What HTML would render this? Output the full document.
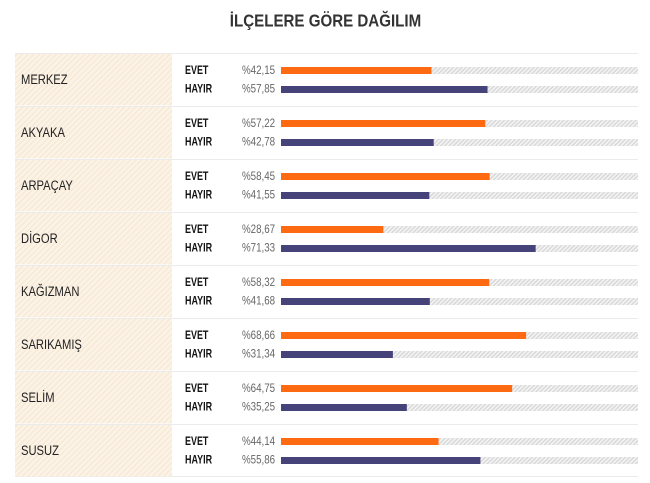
<!DOCTYPE html>
<html><head><meta charset="utf-8"><style>
html,body{margin:0;padding:0;background:#fff;}
svg{display:block;}
.t{font-family:"Liberation Sans",sans-serif;font-weight:bold;font-size:18px;fill:#333;}
.n{font-family:"Liberation Sans",sans-serif;font-size:14px;fill:#222;}
.l{font-family:"Liberation Sans",sans-serif;font-weight:bold;font-size:11.5px;fill:#111;}
.p{font-family:"Liberation Sans",sans-serif;font-size:11.5px;fill:#666;}
</style></head><body>
<svg width="650" height="483" viewBox="0 0 650 483" xmlns="http://www.w3.org/2000/svg">
<defs>
<pattern id="b" width="4" height="4" patternUnits="userSpaceOnUse" patternTransform="rotate(45)"><rect width="4" height="4" fill="#fcf3e7"/><rect width="1.5" height="4" fill="#f7e9d6"/></pattern>
<pattern id="g" width="3" height="3" patternUnits="userSpaceOnUse" patternTransform="rotate(45)"><rect width="3" height="3" fill="#f4f4f4"/><rect width="1.5" height="3" fill="#d9d9d9"/></pattern>
<g id="row">
<rect x="15" y="0.5" width="157" height="52" fill="url(#b)"/>
<line x1="15" y1="0.5" x2="638" y2="0.5" stroke="#ebebeb" stroke-width="1"/>
<text class="l" transform="translate(185,21) scale(0.78,1)">EVET</text>
<text class="l" transform="translate(185,39.7) scale(0.78,1)">HAYIR</text>
<rect x="281" y="14" width="357" height="7" fill="url(#g)"/>
<rect x="281" y="33" width="357" height="7" fill="url(#g)"/>
</g>
</defs>
<text class="t" text-anchor="middle" transform="translate(325.5,26.5) scale(0.84,1)">İLÇELERE GÖRE DAĞILIM</text>
<line x1="15" y1="476.5" x2="638" y2="476.5" stroke="#ebebeb" stroke-width="1"/>

<g transform="translate(0,53)">
<use href="#row"/>
<text class="n" transform="translate(21,31) scale(0.8,1)">MERKEZ</text>
<text class="p" transform="translate(242,21) scale(0.85,1)">%42,15</text>
<text class="p" transform="translate(242,39.7) scale(0.85,1)">%57,85</text>
<rect x="281" y="14" width="150.48" height="7" fill="#fd6a12"/>
<rect x="281" y="33" width="206.52" height="7" fill="#46427a"/>
</g>

<g transform="translate(0,106)">
<use href="#row"/>
<text class="n" transform="translate(21,31) scale(0.8,1)">AKYAKA</text>
<text class="p" transform="translate(242,21) scale(0.85,1)">%57,22</text>
<text class="p" transform="translate(242,39.7) scale(0.85,1)">%42,78</text>
<rect x="281" y="14" width="204.28" height="7" fill="#fd6a12"/>
<rect x="281" y="33" width="152.72" height="7" fill="#46427a"/>
</g>

<g transform="translate(0,159)">
<use href="#row"/>
<text class="n" transform="translate(21,31) scale(0.8,1)">ARPAÇAY</text>
<text class="p" transform="translate(242,21) scale(0.85,1)">%58,45</text>
<text class="p" transform="translate(242,39.7) scale(0.85,1)">%41,55</text>
<rect x="281" y="14" width="208.67" height="7" fill="#fd6a12"/>
<rect x="281" y="33" width="148.33" height="7" fill="#46427a"/>
</g>

<g transform="translate(0,212)">
<use href="#row"/>
<text class="n" transform="translate(21,31) scale(0.8,1)">DİGOR</text>
<text class="p" transform="translate(242,21) scale(0.85,1)">%28,67</text>
<text class="p" transform="translate(242,39.7) scale(0.85,1)">%71,33</text>
<rect x="281" y="14" width="102.35" height="7" fill="#fd6a12"/>
<rect x="281" y="33" width="254.65" height="7" fill="#46427a"/>
</g>

<g transform="translate(0,265)">
<use href="#row"/>
<text class="n" transform="translate(21,31) scale(0.8,1)">KAĞIZMAN</text>
<text class="p" transform="translate(242,21) scale(0.85,1)">%58,32</text>
<text class="p" transform="translate(242,39.7) scale(0.85,1)">%41,68</text>
<rect x="281" y="14" width="208.20" height="7" fill="#fd6a12"/>
<rect x="281" y="33" width="148.80" height="7" fill="#46427a"/>
</g>

<g transform="translate(0,318)">
<use href="#row"/>
<text class="n" transform="translate(21,31) scale(0.8,1)">SARIKAMIŞ</text>
<text class="p" transform="translate(242,21) scale(0.85,1)">%68,66</text>
<text class="p" transform="translate(242,39.7) scale(0.85,1)">%31,34</text>
<rect x="281" y="14" width="245.12" height="7" fill="#fd6a12"/>
<rect x="281" y="33" width="111.88" height="7" fill="#46427a"/>
</g>

<g transform="translate(0,371)">
<use href="#row"/>
<text class="n" transform="translate(21,31) scale(0.8,1)">SELİM</text>
<text class="p" transform="translate(242,21) scale(0.85,1)">%64,75</text>
<text class="p" transform="translate(242,39.7) scale(0.85,1)">%35,25</text>
<rect x="281" y="14" width="231.16" height="7" fill="#fd6a12"/>
<rect x="281" y="33" width="125.84" height="7" fill="#46427a"/>
</g>

<g transform="translate(0,424)">
<use href="#row"/>
<text class="n" transform="translate(21,31) scale(0.8,1)">SUSUZ</text>
<text class="p" transform="translate(242,21) scale(0.85,1)">%44,14</text>
<text class="p" transform="translate(242,39.7) scale(0.85,1)">%55,86</text>
<rect x="281" y="14" width="157.58" height="7" fill="#fd6a12"/>
<rect x="281" y="33" width="199.42" height="7" fill="#46427a"/>
</g>
</svg>
</body></html>
